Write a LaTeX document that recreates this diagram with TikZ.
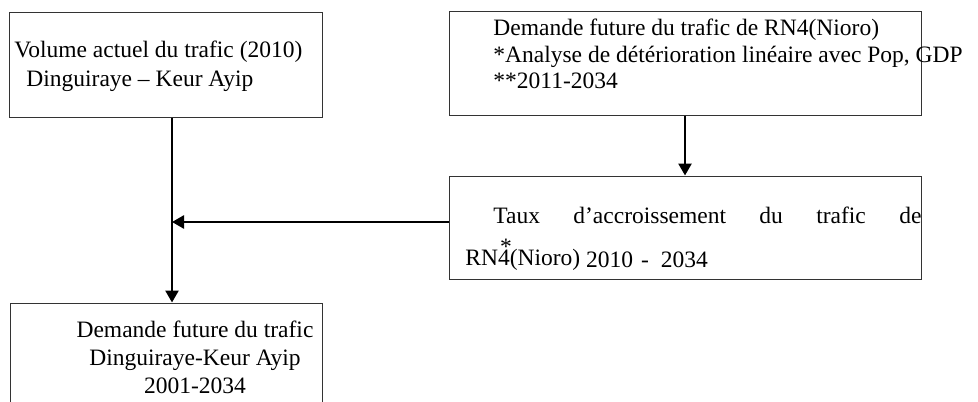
\documentclass[tikz,border=0pt]{standalone}
\usepackage{fontspec}
\setmainfont{Liberation Serif}
\usetikzlibrary{arrows.meta}
\tikzstyle{block} = [rectangle, draw=black!80, line width=0.5pt, minimum width=156.5pt, minimum height=52pt, inner sep=0pt]
\tikzstyle{wideblock} = [block, minimum width=236pt, minimum height=51.5pt]
\tikzstyle{boxtext} = [inner sep=0pt, anchor=base west, align=left]
\tikzstyle{flow} = [->, line width=1.3pt]
\newcommand{\txtsize}[1]{\fontsize{11.75pt}{#1}\selectfont}

\begin{document}
\begin{tikzpicture}[x=0.5pt, y=-0.5pt, >={Triangle[length=6pt,width=6.5pt]}]
    \useasboundingbox (0,0) rectangle (978,401);
    \clip (0,0) rectangle (978,401);
    % boxes
    \node[block] (current) at (165.5,65) {};
    \node[wideblock] (rn4demand) at (685,63.5) {};
    \node[wideblock] (rn4rate) at (685,227.5) {};
    \node[block, minimum width=156pt, minimum height=70pt] (future) at (166,373) {};

    % texts (anchored on the baseline of their last line)
    \node[boxtext, font=\txtsize{14.5pt}] (currenttext) at (14,87)
        {Volume actuel du trafic (2010)\\\hspace*{6pt}Dinguiraye – Keur Ayip};
    \node[boxtext, font=\txtsize{13.25pt}] (rn4demandtext) at (493,89)
        {Demande future du trafic de RN4(Nioro)\\*Analyse de détérioration linéaire avec Pop, GDP\\**2011-2034};
    \node[boxtext, font=\txtsize{21pt}] (rn4ratetext) at (465,265)
        {\hspace*{14pt}\makebox[214pt][s]{Taux d’accroissement du trafic de}\\
         RN\rlap{\raisebox{5.5pt}{\hspace{1pt}*}}4(Nioro) \raisebox{-1pt}{2010\hspace{4pt}-\hspace{6pt}2034}};
    \node[boxtext, anchor=base, align=center, font=\txtsize{14pt}] (futuretext) at (195,393)
        {Demande future du trafic\\Dinguiraye-Keur Ayip\\2001-2034};

    % connectors
    \coordinate (merge) at (172,222);
    \draw[flow] (current.south -| merge) -- (future.north -| merge);
    \draw[flow] (rn4rate.west |- merge) -- (merge);
    \draw[flow] (rn4demand) -- (rn4rate);
\end{tikzpicture}
\end{document}
